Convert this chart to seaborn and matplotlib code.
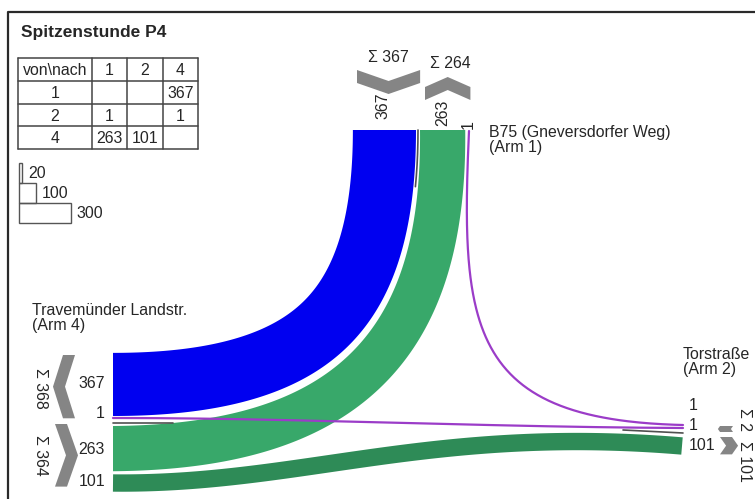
import numpy as np
import pandas as pd
import matplotlib
matplotlib.use('Agg')
import matplotlib.pyplot as plt
import seaborn as sns

# --- Daten: Spitzenstunde P4 ---
titel = 'Spitzenstunde P4'
arme = [1, 2, 4]
arm_namen = ['B75 (Gneversdorfer Weg)\n(Arm 1)', 'Torstraße\n(Arm 2)',
             'Travemünder Landstr.\n(Arm 4)']
von = [1, 2, 2, 4, 4]
nach = [4, 1, 4, 1, 2]
menge = [367, 1, 1, 263, 101]
massstab = [20, 100, 300]

k = 0.172  # Pixel je Fahrzeug

farbe = {(1, 4): '#0000F0', (2, 1): '#9B3CC8', (2, 4): '#9B3CC8',
         (4, 1): '#38A86A', (4, 2): '#2E8B57'}

fluss = {(v, n): m for v, n, m in zip(von, nach, menge)}
ab = {a: sum(m for v, m in zip(von, menge) if v == a) for a in arme}
zu = {a: sum(m for n, m in zip(nach, menge) if n == a) for a in arme}


def bez(P, t):
    P = np.array(P, float)
    t = t[:, None]
    return ((1 - t) ** 3 * P[0] + 3 * (1 - t) ** 2 * t * P[1]
            + 3 * (1 - t) * t ** 2 * P[2] + t ** 3 * P[3])


def bez_d(P, t):
    P = np.array(P, float)
    t = t[:, None]
    return (3 * (1 - t) ** 2 * (P[1] - P[0]) + 6 * (1 - t) * t * (P[2] - P[1])
            + 3 * t ** 2 * (P[3] - P[2]))


def versatz(P, t, off):
    d = bez_d(P, t)
    d = d / np.linalg.norm(d, axis=1)[:, None]
    n = np.column_stack([d[:, 1], -d[:, 0]])
    return bez(P, t) + off[:, None] * n


def band(ax, P, a0, a1, b0, b1, color):
    t = np.linspace(0, 1, 300)
    e1 = versatz(P, t, a0 + (b0 - a0) * t)
    e2 = versatz(P, t, a1 + (b1 - a1) * t)
    poly = np.vstack([e1, e2[::-1]])
    ax.fill(poly[:, 0], poly[:, 1], color=color, lw=0)


def linie(ax, P, color, lw=1.6, t0=0.0, t1=1.0):
    t = np.linspace(t0, t1, 300)
    pts = bez(P, t)
    df = pd.DataFrame({'x': pts[:, 0], 'y': pts[:, 1]})
    sns.lineplot(data=df, x='x', y='y', sort=False, estimator=None,
                 color=color, lw=lw, ax=ax)


def chevron(ax, u0, L, base, richtung, achse, D=10, T=12):
    L = max(L, 6)
    D = min(D, L * 0.35)
    um, u1 = u0 + L / 2, u0 + L
    loc = [(u0, 0), (um, D), (u1, 0), (u1, T), (um, D + T), (u0, T)]
    if achse == 'v':
        xy = [(base + richtung * v, u) for u, v in loc]
    else:
        xy = [(u, base + richtung * v) for u, v in loc]
    xy = np.array(xy)
    ax.fill(xy[:, 0], xy[:, 1], color='#858585', lw=0)


sns.set_theme(style='white')
plt.rcParams['font.family'] = ['Liberation Sans', 'DejaVu Sans']

fig = plt.figure(figsize=(7.55, 4.99), dpi=100)
ax = fig.add_axes([0, 0, 1, 1])
fs = 11.4

# Rahmen
ax.plot([8, 8, 760], [505, 12, 12], color='#2a2a2a', lw=1.6)
ax.text(21, 32, titel, fontsize=12.5, fontweight='bold', va='center')

# Matrix
cx = [18, 92, 127, 163, 198]
ry = [58, 81, 104, 126, 149]
for x in cx:
    ax.plot([x, x], [ry[0], ry[-1]], color='#444444', lw=1.1)
for y in ry:
    ax.plot([cx[0], cx[-1]], [y, y], color='#444444', lw=1.1)
kopf = ['von\\nach'] + [str(a) for a in arme]
for c, s in enumerate(kopf):
    ax.text((cx[c] + cx[c + 1]) / 2, (ry[0] + ry[1]) / 2 + 1, s,
            ha='center', va='center', fontsize=fs)
for r, a in enumerate(arme):
    zeile = [str(a)] + [str(fluss[(a, b)]) if (a, b) in fluss else '' for b in arme]
    for c, s in enumerate(zeile):
        ax.text((cx[c] + cx[c + 1]) / 2, (ry[r + 1] + ry[r + 2]) / 2 + 1, s,
                ha='center', va='center', fontsize=fs)

# Massstab
y0 = 163
for m in massstab:
    w = m * k
    ax.add_patch(plt.Rectangle((19, y0), w, 20, fill=False, ec='#555555', lw=1))
    ax.text(19 + w + 6, y0 + 10, str(m), va='center', fontsize=fs)
    y0 += 20

# Stroeme zwischen Arm 1 und Arm 4
basis = [(418, 130), (418, 330), (333, 418), (113, 418)]
w = fluss[(1, 4)] * k
band(ax, basis, -2 - w, -2, -2 - w, -2, farbe[(1, 4)])
w = fluss[(4, 1)] * k
band(ax, basis, 2, 2 + w, 8, 8 + w, farbe[(4, 1)])
linie(ax, basis, '#505050', lw=1.2, t0=0.0, t1=0.1)

# Strom 4 -> 2
w = fluss[(4, 2)] * k
band(ax, [(113, 483), (300, 485), (430, 425), (682, 446)],
     -w / 2, w / 2, -w / 2, w / 2, farbe[(4, 2)])

# Stroeme von Arm 2 (je 1 Fz)
linie(ax, [(469, 131), (460, 330), (470, 420), (683, 425)], farbe[(2, 1)])
linie(ax, [(683, 428), (480, 427), (300, 418), (113, 418)], farbe[(2, 4)])
linie(ax, [(113, 423), (133, 423), (153, 423), (173, 423)], '#505050', lw=1.2)
linie(ax, [(623, 430), (643, 431), (663, 432), (683, 433)], '#505050', lw=1.2)

# Arm 4 (links)
chevron(ax, 355, zu[4] * k, 75, -1, 'v')
chevron(ax, 424, ab[4] * k, 55, 1, 'v', D=11)
ax.text(40, 388, f'Σ {zu[4]}', rotation=270, ha='center', va='center', fontsize=fs)
ax.text(40, 455, f'Σ {ab[4]}', rotation=270, ha='center', va='center', fontsize=fs)
for s, y in zip([fluss[(1, 4)], fluss[(2, 4)], fluss[(4, 1)], fluss[(4, 2)]],
                [384, 413, 449, 482]):
    ax.text(105, y, str(s), ha='right', va='center', fontsize=fs)
ax.text(32, 318, arm_namen[2], va='center', fontsize=fs, linespacing=1.05)

# Arm 1 (oben)
chevron(ax, 357, ab[1] * k, 70, 1, 'h', D=11, T=13)
chevron(ax, 425, zu[1] * k, 100, -1, 'h', T=13)
ax.text(388, 57, f'Σ {ab[1]}', ha='center', va='center', fontsize=fs)
ax.text(450, 63, f'Σ {zu[1]}', ha='center', va='center', fontsize=fs)
for s, x, y in zip([fluss[(1, 4)], fluss[(4, 1)], fluss[(2, 1)]],
                   [383, 443, 468], [119, 126, 129]):
    ax.text(x, y, str(s), rotation=90, ha='center', va='bottom', fontsize=fs)
ax.text(489, 140, arm_namen[0], va='center', fontsize=fs, linespacing=1.05)

# Arm 2 (rechts)
chevron(ax, 426, ab[2] * k, 733, -1, 'v', T=13)
chevron(ax, 437, zu[2] * k, 720, 1, 'v')
ax.text(745, 420, f'Σ {ab[2]}', rotation=270, ha='center', va='center', fontsize=fs)
ax.text(745, 461, f'Σ {zu[2]}', rotation=270, ha='center', va='center', fontsize=fs)
for s, y in zip([fluss[(2, 1)], fluss[(2, 4)], fluss[(4, 2)]], [405, 425, 445]):
    ax.text(689, y, str(s), ha='left', va='center', fontsize=fs)
ax.text(683, 362, arm_namen[1], va='center', fontsize=fs, linespacing=1.05)

ax.set_xlim(0, 755)
ax.set_ylim(499, 0)
ax.axis('off')
fig.savefig('out.png', dpi=100, facecolor='white')
